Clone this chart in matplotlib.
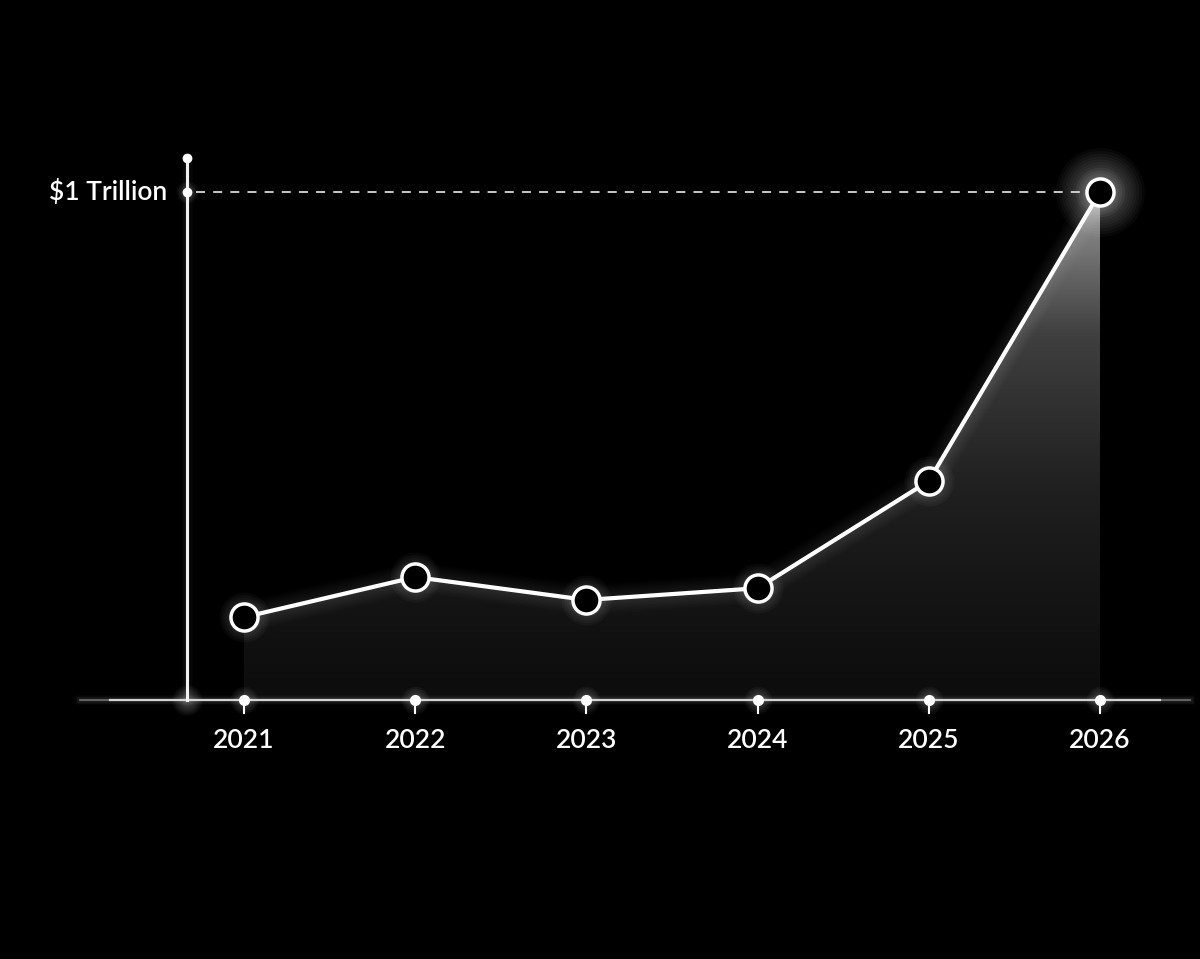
import numpy as np
import matplotlib
matplotlib.use("Agg")
import matplotlib.pyplot as plt
from matplotlib.patches import Polygon
from matplotlib.colors import LinearSegmentedColormap

# ---- data ----
years = [2021, 2022, 2023, 2024, 2025, 2026]
values = [0.163, 0.242, 0.197, 0.220, 0.431, 1.0]   # trillions USD
tick_labels = ["2021", "2022", "2023", "2024", "2025", "2026"]
ref_value = 1.0
ref_label = "$1 Trillion"

W, H, DPI = 1200, 959, 100
fig = plt.figure(figsize=(W / DPI, H / DPI), dpi=DPI, facecolor="black")
ax = fig.add_axes([0, 0, 1, 1], facecolor="black")

# pixel mapping helpers (layout only)
px_per_year = 171.2
x0_px = 244
base_px = 700
px_per_unit = 508
xl = (years[0] - x0_px / px_per_year, years[0] + (W - x0_px) / px_per_year)
yl = ((base_px - H) / px_per_unit, base_px / px_per_unit)
ax.set_xlim(*xl)
ax.set_ylim(*yl)
ax.axis("off")

def xpx(p):
    return years[0] + (p - x0_px) / px_per_year

def ypx(p):
    return (base_px - p) / px_per_unit

def glow_pts(x, y, max_ms, n, alpha, z=3):
    for s in np.linspace(max_ms, max_ms * 0.3, n):
        ax.plot(x, y, "o", ms=s, color="white", alpha=alpha, markeredgewidth=0, zorder=z)

# ---- gradient fill under the curve ----
cmap = LinearSegmentedColormap.from_list("g", ["#0d0d0d", "#202020", "#404040", "#9a9a9a"], N=256)
gy = np.linspace(0, 1, 300)[:, None]
grad = np.repeat(gy ** 1.25, 10, axis=1)
im = ax.imshow(grad, extent=(years[0], years[-1], 0, ref_value), origin="lower",
               aspect="auto", cmap=cmap, vmin=0, vmax=1, zorder=1, interpolation="bilinear")
poly_pts = [(years[0], 0)] + list(zip(years, values)) + [(years[-1], 0)]
poly = Polygon(poly_pts, closed=True, facecolor="none", edgecolor="none")
ax.add_patch(poly)
im.set_clip_path(poly)

# soft glow around the line
for lw in np.linspace(22, 5, 10):
    ax.plot(years, values, color="white", lw=lw, alpha=0.012, solid_capstyle="round",
            solid_joinstyle="round", zorder=2)

# ---- axes lines ----
bx = [xpx(80), xpx(1190)]
for lw in np.linspace(7, 2, 6):
    ax.plot(bx, [0, 0], color="white", lw=lw, alpha=0.025, zorder=2)
ax.plot([xpx(110), xpx(1160)], [0, 0], color="#d2d2d2", lw=1.6, zorder=3)
ax.plot([xpx(80), xpx(110)], [0, 0], color="#d2d2d2", lw=1.2, alpha=0.45, zorder=3)
ax.plot([xpx(1160), xpx(1190)], [0, 0], color="#d2d2d2", lw=1.2, alpha=0.45, zorder=3)

# vertical axis
yax_x = xpx(187)
ax.plot([yax_x, yax_x], [0, ypx(158)], color="#f2f2f2", lw=2.2, zorder=3)
for lw in np.linspace(8, 3, 5):
    ax.plot([yax_x, yax_x], [0, ypx(158)], color="white", lw=lw, alpha=0.015, zorder=2)
ax.plot([yax_x], [ypx(158)], "o", ms=6, color="white", zorder=4)
ax.plot([yax_x], [ref_value], "o", ms=6, color="white", zorder=4)
glow_pts([yax_x], [ref_value], 16, 6, 0.04)
glow_pts([yax_x], [0], 22, 8, 0.035)

# reference dashed line
ax.plot([xpx(196), years[-1]], [ref_value, ref_value], color="#d8d8d8", lw=1.3,
        dashes=(5, 4.5), zorder=3)
ax.text(xpx(167), ref_value, ref_label, color="white", fontsize=19, fontweight="semibold",
        family="Lato", ha="right", va="center", zorder=5)

# ---- ticks ----
for yr, lab in zip(years, tick_labels):
    ax.plot([yr, yr], [0, ypx(713)], color="white", lw=1.5, zorder=4)
    glow_pts([yr], [0], 20, 7, 0.035)
    ax.plot([yr], [0], "o", ms=7, color="white", zorder=5)
    ax.text(yr, ypx(740), lab, color="white", fontsize=19, fontweight="semibold",
            family="Lato", ha="center", va="center", zorder=5)

# ---- line and markers ----
ax.plot(years, values, color="white", lw=3, solid_joinstyle="round", zorder=6)
glow_pts(years, values, 36, 8, 0.03, z=5)
glow_pts([years[-1]], [values[-1]], 64, 12, 0.03, z=5)
ax.plot(years, values, "o", ms=19.5, markerfacecolor="black", markeredgecolor="white",
        markeredgewidth=2.5, zorder=7)

fig.savefig("out.png", dpi=DPI, facecolor="black")
